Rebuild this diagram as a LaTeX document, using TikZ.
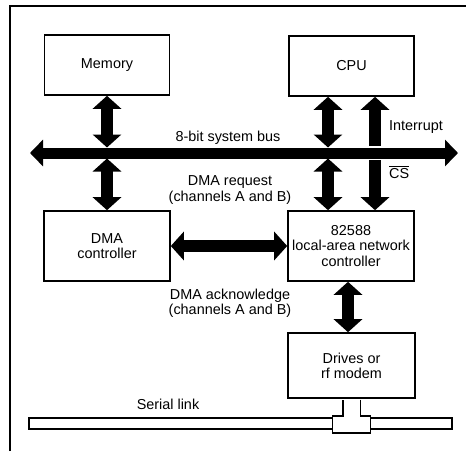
\documentclass[tikz,border=0pt]{standalone}
\usepackage{fontspec}
\setmainfont{Liberation Sans}
\usetikzlibrary{arrows.meta}

\tikzset{
    blk/.style={draw, line width=0.9pt, align=center, inner sep=0pt},
    lbl/.style={align=center, inner sep=1pt},
    fatarrow/.style={line width=2.4mm, -{Triangle[length=2.6mm, width=5.6mm]}},
    fatboth/.style={line width=2.4mm,
        {Triangle[length=2.6mm, width=5.6mm]}-{Triangle[length=2.6mm, width=5.6mm]}},
    busarrow/.style={line width=2.2mm,
        {Triangle[length=2.6mm, width=5.2mm]}-{Triangle[length=2.6mm, width=5.2mm]}},
}

\begin{document}
\begin{tikzpicture}[x=0.2mm, y=-0.2mm, font=\fontsize{8.2}{8.6}\selectfont]

        \useasboundingbox (0,0) rectangle (473,451);

        % --- Cornice ---
        \draw[line width=0.9pt] (10,451) -- (10,6) -- (466,6);

        % --- Blocchi ---
        \node[blk, minimum width=25mm, minimum height=12mm] (mem) at (107,65) {Memory};
        \node[blk, minimum width=25mm, minimum height=12mm] (cpu) at (351.5,66) {CPU};
        \node[blk, minimum width=25.2mm, minimum height=14mm] (dma) at (107,246) {DMA\\controller};
        \node[blk, minimum width=25.2mm, minimum height=14mm] (lan) at (351,246) {82588\\local-area network\\controller};
        \node[blk, minimum width=25.4mm, minimum height=13mm] (drv) at (351.5,365.5) {Drives or\\rf modem};

        % --- Bus di sistema a 8 bit ---
        \coordinate (busW) at (30,153);
        \coordinate (busE) at (458,153);
        \draw[busarrow] (busW) -- (busE);
        \node[lbl] (busLbl) at (228,138) {8-bit system bus};

        % punti di aggancio sopra e sotto il bus
        \coordinate (busN) at (0,147.5);
        \coordinate (busS) at (0,158.5);
        \coordinate (cpuTap) at (328,0);
        \coordinate (irqTap) at (375,0);
        \coordinate (ackTap) at (348,0);

        % --- Collegamenti verticali con il bus ---
        \draw[fatboth] (mem.south) -- (mem.south |- busN);
        \draw[fatboth] (dma.north |- busS) -- (dma.north);
        \draw[fatboth] (cpu.south -| cpuTap) -- (cpuTap |- busN);
        \draw[fatboth] (cpuTap |- busS) -- (lan.north -| cpuTap);

        % Interrupt verso la CPU, CS verso il controller
        \draw[fatarrow] ([yshift=1pt]irqTap |- busN) -- (cpu.south -| irqTap);
        \draw[fatarrow] ([yshift=-1pt]irqTap |- busS) -- (lan.north -| irqTap);
        \node[lbl, anchor=west] (irqLbl) at (387,127) {Interrupt};
        \node[lbl, anchor=west] (csLbl) at (387,172) {$\overline{\hbox{CS}}$};

        % --- DMA request / acknowledge ---
        \draw[fatboth] (dma.east) -- (lan.west);
        \node[lbl] (reqLbl) at (230,190) {DMA request\\(channels A and B)};
        \node[lbl] (ackLbl) at (230,303) {DMA acknowledge\\(channels A and B)};

        % --- Controller verso modem ---
        \draw[fatboth] (lan.south -| ackTap) -- (drv.north -| ackTap);

        % --- Linea seriale con derivazione ---
        \node[blk, minimum width=84.6mm, minimum height=2.2mm] (link) at (240.5,423.5) {};
        \node[blk, fill=white, minimum width=7.6mm, minimum height=3.4mm] (tap) at (351.5,424.5) {};
        \draw[line width=0.9pt, double, double distance=3.2mm]
            ([yshift=-0.45pt]drv.south) -- ([yshift=-1pt]tap.north);
        \node[lbl] (linkLbl) at (168,404) {Serial link};

    \end{tikzpicture}
\end{document}
